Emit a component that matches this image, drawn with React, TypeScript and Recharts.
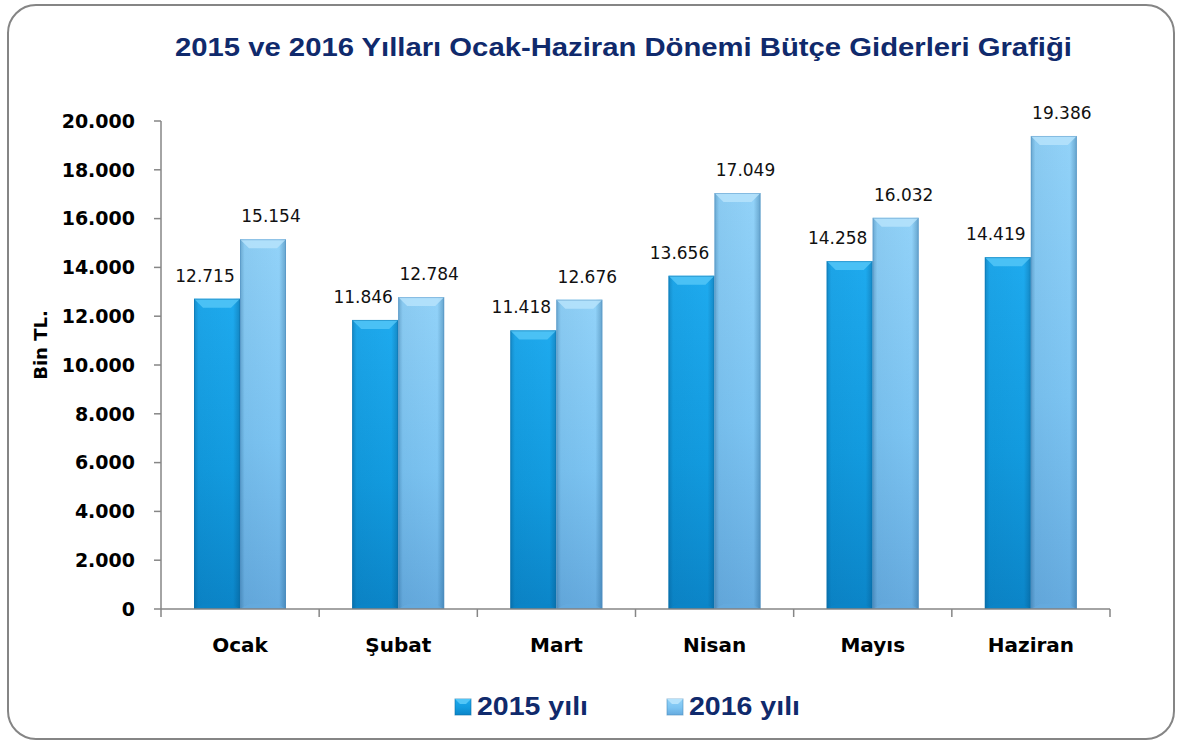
import { BarChart, Bar, XAxis, YAxis, LabelList } from 'recharts'

const months = ['Ocak', 'Şubat', 'Mart', 'Nisan', 'Mayıs', 'Haziran']
const values2015 = [12715, 11846, 11418, 13656, 14258, 14419]
const values2016 = [15154, 12784, 12676, 17049, 16032, 19386]
const yTicks = [0, 2000, 4000, 6000, 8000, 10000, 12000, 14000, 16000, 18000, 20000]
const seriesNames = ['2015 yılı', '2016 yılı']

const WIDTH = 1177
const HEIGHT = 742
const MARGIN = { top: 121, right: 67, bottom: 132, left: 0 }
const Y_AXIS_W = 161
const BAND = (WIDTH - MARGIN.right - Y_AXIS_W) / months.length

const TITLE_COLOR = '#102a6c'
const AXIS_COLOR = '#868686'

const data = months.map((month, i) => ({
  month,
  y2015: values2015[i],
  y2016: values2016[i],
}))

const fmt = (v: number) => String(v).replace(/\B(?=(\d{3})+(?!\d))/g, '.')

interface Palette {
  top: string
  mid: string
  bottom: string
  bevel: string
  line: string
}

const PALETTES: Palette[] = [
  { top: '#1eaaee', mid: '#129bdf', bottom: '#0b85c8', bevel: '#52c6f7', line: '#0a6fa8' },
  { top: '#92d2f8', mid: '#7cc4f2', bottom: '#66abdf', bevel: '#b6e3fc', line: '#4f8fc0' },
]

function makeShape(idx: number) {
  const p = PALETTES[idx]
  return (props: any) => {
    const { x, y, width, height } = props
    if (!height || height <= 0) return <g />
    const b = Math.min(9, height / 2)
    return (
      <g>
        <rect x={x} y={y} width={width} height={height} fill={`url(#vert${idx})`} />
        <rect x={x} y={y} width={width} height={height} fill="url(#edges)" />
        <polygon
          points={`${x},${y} ${x + width},${y} ${x + width - b},${y + b} ${x + b},${y + b}`}
          fill={p.bevel}
          opacity={0.85}
        />
        <polygon
          points={`${x},${y + height} ${x + b},${y + height - 5} ${x + width - b},${y + height - 5} ${x + width},${y + height}`}
          fill={p.bottom}
          opacity={0.6}
        />
        <rect x={x + 0.5} y={y + 0.5} width={width - 1} height={height - 1} fill="none" stroke={p.line} strokeOpacity={0.45} />
      </g>
    )
  }
}

const makeLabel = (dx: number) => (props: any) => {
  const { x, y, width, value } = props
  return (
    <text
      x={x + width / 2 + dx}
      y={y - 17}
      textAnchor="middle"
      fontFamily="DejaVu Sans"
      fontSize={17}
      fill="#111"
    >
      {fmt(value)}
    </text>
  )
}

function MonthTick(props: any) {
  const { x, y, payload, index } = props
  const last = index === months.length - 1
  return (
    <g>
      <line x1={x - BAND / 2} x2={x - BAND / 2} y1={y} y2={y + 8} stroke={AXIS_COLOR} strokeWidth={1.5} />
      {last && <line x1={x + BAND / 2} x2={x + BAND / 2} y1={y} y2={y + 8} stroke={AXIS_COLOR} strokeWidth={1.5} />}
      <text x={x} y={y + 43} textAnchor="middle" fontFamily="DejaVu Sans" fontWeight={700} fontSize={20} fill="#000">
        {payload.value}
      </text>
    </g>
  )
}

function YLabel(props: any) {
  const { viewBox } = props
  const cx = 40
  const cy = viewBox.y + viewBox.height / 2 - 20
  return (
    <text
      x={cx}
      y={cy}
      transform={`rotate(-90 ${cx} ${cy})`}
      textAnchor="middle"
      dominantBaseline="central"
      fontFamily="DejaVu Sans"
      fontWeight={700}
      fontSize={18}
      fill="#000"
    >
      Bin TL.
    </text>
  )
}

function LegendIcon({ x, y, idx }: { x: number; y: number; idx: number }) {
  const p = PALETTES[idx]
  return (
    <g>
      <rect x={x} y={y} width={16} height={16} fill={`url(#vert${idx})`} stroke={p.line} strokeOpacity={0.6} />
      <polygon points={`${x},${y} ${x + 16},${y} ${x + 11},${y + 5} ${x + 5},${y + 5}`} fill={p.bevel} />
    </g>
  )
}

export default function App() {
  return (
    <div style={{ position: 'absolute', left: 0, top: 0, width: WIDTH, height: HEIGHT, background: '#fff' }}>
      <BarChart
        width={WIDTH}
        height={HEIGHT}
        data={data}
        margin={MARGIN}
        barSize={46}
        barGap={0}
      >
        <defs>
          {PALETTES.map((p, i) => (
            <linearGradient key={i} id={`vert${i}`} x1="0" y1="0" x2="0" y2="1">
              <stop offset="0%" stopColor={p.top} />
              <stop offset="55%" stopColor={p.mid} />
              <stop offset="100%" stopColor={p.bottom} />
            </linearGradient>
          ))}
          <linearGradient id="edges" x1="0" y1="0" x2="1" y2="0">
            <stop offset="0%" stopColor="#003a66" stopOpacity={0.28} />
            <stop offset="10%" stopColor="#003a66" stopOpacity={0.05} />
            <stop offset="85%" stopColor="#003a66" stopOpacity={0} />
            <stop offset="100%" stopColor="#003a66" stopOpacity={0.3} />
          </linearGradient>
        </defs>
        <XAxis
          dataKey="month"
          height={1}
          axisLine={{ stroke: AXIS_COLOR, strokeWidth: 1.5 }}
          tickLine={false}
          tickSize={0}
          tickMargin={0}
          tick={<MonthTick />}
          interval={0}
        />
        <YAxis
          width={Y_AXIS_W}
          domain={[0, 20000]}
          ticks={yTicks}
          interval={0}
          axisLine={{ stroke: AXIS_COLOR, strokeWidth: 1.5 }}
          tickLine={{ stroke: AXIS_COLOR, strokeWidth: 1.5 }}
          tickSize={7}
          tickMargin={19}
          tickFormatter={fmt}
          tick={{ fill: '#000', fontSize: 19, fontWeight: 700, fontFamily: 'DejaVu Sans' }}
          label={<YLabel />}
        />
        <Bar dataKey="y2015" name={seriesNames[0]} shape={makeShape(0)} isAnimationActive={false}>
          <LabelList dataKey="y2015" content={makeLabel(-12)} />
        </Bar>
        <Bar dataKey="y2016" name={seriesNames[1]} shape={makeShape(1)} isAnimationActive={false}>
          <LabelList dataKey="y2016" content={makeLabel(8)} />
        </Bar>
      </BarChart>

      <svg
        width={WIDTH}
        height={HEIGHT}
        style={{ position: 'absolute', left: 0, top: 0, pointerEvents: 'none' }}
      >
        <defs>
          {PALETTES.map((p, i) => (
            <linearGradient key={i} id={`vert${i}`} x1="0" y1="0" x2="0" y2="1">
              <stop offset="0%" stopColor={p.top} />
              <stop offset="100%" stopColor={p.bottom} />
            </linearGradient>
          ))}
        </defs>
        <rect x={8} y={5} width={1166} height={734} rx={28} fill="none" stroke="#858585" strokeWidth={2} />
        <text
          x={175}
          y={56}
          textLength={897}
          lengthAdjust="spacingAndGlyphs"
          fontFamily="Liberation Sans, Arial, sans-serif"
          fontWeight={700}
          fontSize={25}
          fill={TITLE_COLOR}
        >
          2015 ve 2016 Yılları Ocak-Haziran Dönemi Bütçe Giderleri Grafiği
        </text>
        <LegendIcon x={455} y={699} idx={0} />
        <text
          x={477}
          y={715}
          textLength={111}
          lengthAdjust="spacingAndGlyphs"
          fontFamily="Liberation Sans, Arial, sans-serif"
          fontWeight={700}
          fontSize={26}
          fill={TITLE_COLOR}
        >
          {seriesNames[0]}
        </text>
        <LegendIcon x={667} y={699} idx={1} />
        <text
          x={689}
          y={715}
          textLength={111}
          lengthAdjust="spacingAndGlyphs"
          fontFamily="Liberation Sans, Arial, sans-serif"
          fontWeight={700}
          fontSize={26}
          fill={TITLE_COLOR}
        >
          {seriesNames[1]}
        </text>
      </svg>
    </div>
  )
}
